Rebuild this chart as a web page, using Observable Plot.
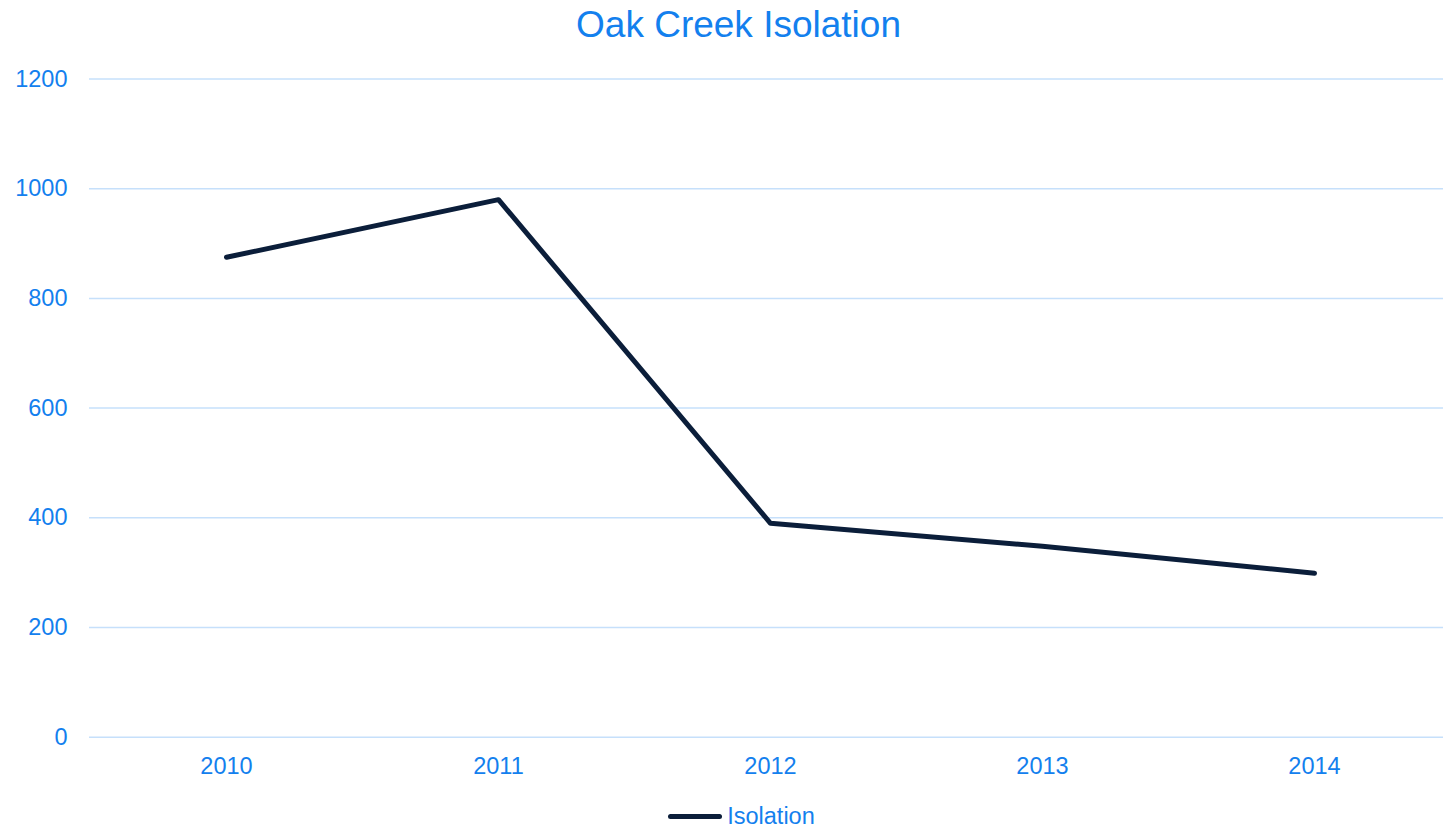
<!DOCTYPE html>
<html>
<head>
<meta charset="utf-8">
<script src="https://cdn.jsdelivr.net/npm/d3@7"></script>
<script src="https://cdn.jsdelivr.net/npm/@observablehq/plot@0.6"></script>
<style>
  html, body { margin: 0; padding: 0; background: #fff; }
  body { width: 1443px; height: 828px; overflow: hidden; font-family: "Liberation Sans", Arial, sans-serif; }
  #title { height: 50px; line-height: 50px; font-size: 37px; color: #1380ee; text-align: center; padding-left: 34px; box-sizing: border-box; width: 1443px; }
  #legend { height: 38px; padding-top: 14px; display: flex; align-items: center; justify-content: center; padding-left: 40px; box-sizing: border-box; width: 1443px; font-size: 23.5px; color: #1380ee; }
  #legend .sw { width: 54px; height: 5px; border-radius: 3px; background: #0b1e3a; margin-right: 5px; }
  #chart, #chart svg { display: block; }
</style>
</head>
<body>
<div id="title">Oak Creek Isolation</div>
<div id="chart"></div>
<div id="legend"><span class="sw"></span><span>Isolation</span></div>
<script>
const years = ["2010", "2011", "2012", "2013", "2014"];
const isolation = [875, 980, 390, 348, 299];
const yTicks = [0, 200, 400, 600, 800, 1000, 1200];
const seriesName = "Isolation";

const data = years.map((y, i) => ({year: y, value: isolation[i], series: seriesName}));

const textColor = "#1380ee";
const plot = Plot.plot({
  width: 1443,
  height: 740,
  marginLeft: 89,
  marginRight: 0,
  marginTop: 28.5,
  marginBottom: 53.3,
  style: {fontFamily: '"Liberation Sans", Arial, sans-serif', fontSize: "23.5px", color: textColor, background: "#fff"},
  x: {type: "point", domain: years, range: [224.5, 1314.5], padding: 0, label: null},
  y: {domain: [0, 1200], label: null},
  marks: [
    Plot.gridY(yTicks, {stroke: "#c6e0fb", strokeOpacity: 1, strokeWidth: 1.5}),
    Plot.axisY(yTicks, {tickSize: 0, tickPadding: 22, label: null, fill: textColor, fontSize: 23.5, tickFormat: d => String(d)}),
    Plot.axisX({tickSize: 0, tickPadding: 20, label: null, fill: textColor, fontSize: 23.5}),
    Plot.line(data, {x: "year", y: "value", stroke: "#0b1e3a", strokeWidth: 5, strokeLinecap: "round", strokeLinejoin: "round"})
  ]
});
document.getElementById("chart").appendChild(plot);
</script>
</body>
</html>
